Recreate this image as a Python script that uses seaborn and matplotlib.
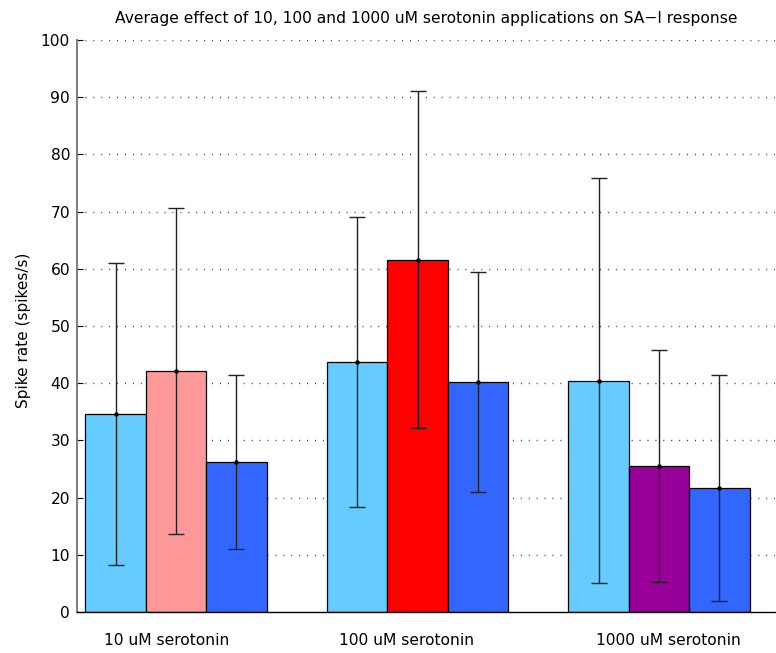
import matplotlib
matplotlib.use("Agg")
import matplotlib.pyplot as plt
import seaborn as sns
import pandas as pd
import numpy as np

groups = ["10 uM serotonin", "100 uM serotonin", "1000 uM serotonin"]
phases = ["before", "during", "after"]
means = [[34.7, 42.1, 26.3],
         [43.7, 61.6, 40.2],
         [40.4, 25.5, 21.7]]
errors = [[26.4, 28.5, 15.2],
          [25.4, 29.5, 19.2],
          [35.4, 20.3, 19.8]]
colors = [["#66CCFF", "#FF9999", "#3366FF"],
          ["#66CCFF", "#FF0000", "#3366FF"],
          ["#66CCFF", "#990099", "#3366FF"]]
label_shift = [-0.04, -0.045, 0.037]
title = "Average effect of 10, 100 and 1000 uM serotonin applications on SA\u2212I response"
ylabel = "Spike rate (spikes/s)"

sns.set_theme(style="white")
plt.rcParams['font.family'] = ['DejaVu Sans']

rows = []
for gi, g in enumerate(groups):
    for pi, p in enumerate(phases):
        rows.append({"group": g, "phase": p, "rate": means[gi][pi]})
df = pd.DataFrame(rows)

fig = plt.figure(figsize=(7.76, 6.53), dpi=100)
ax = fig.add_axes([77/776, 41/653, 698/776, 572/653])

sns.barplot(data=df, x="group", y="rate", hue="phase", order=groups,
            hue_order=phases, width=0.75, errorbar=None, legend=False,
            edgecolor="black", linewidth=0.9, ax=ax, zorder=2)

for pi, p in enumerate(phases):
    cont = ax.containers[pi]
    for gi, patch in enumerate(cont.patches):
        patch.set_facecolor(colors[gi][pi])
        patch.set_alpha(1)
        cx = patch.get_x() + patch.get_width() / 2
        ax.errorbar(cx, means[gi][pi], yerr=errors[gi][pi], fmt='o',
                    color='black', ecolor='#222222', elinewidth=1.0,
                    capsize=6, capthick=1.0, markersize=2.2, zorder=4)

ax.set_ylim(0, 100)
ax.set_xlim(-0.41, 2.48)
ax.set_yticks(np.arange(0, 101, 10))
ax.set_xticks([i + s for i, s in enumerate(label_shift)])
ax.set_xticklabels(groups)
ax.yaxis.grid(True, linestyle=(0, (0.7, 5)), color='#333333', linewidth=1.0)
ax.set_axisbelow(True)
ax.tick_params(axis='y', direction='in', length=4, width=0.8, labelsize=11.2,
               pad=5, left=True, colors='black')
ax.tick_params(axis='x', length=0, labelsize=11.2, pad=15, colors='black')
ax.set_xlabel("")
ax.set_ylabel(ylabel, fontsize=11, color='black')
ax.yaxis.set_label_coords(-0.066, 0.493)
ax.set_title(title, fontsize=11.2, pad=12, color='black')

for s in ["top", "right"]:
    ax.spines[s].set_visible(False)
ax.spines["left"].set_color("#808080")
ax.spines["left"].set_linewidth(1.5)
ax.spines["bottom"].set_color("black")
ax.spines["bottom"].set_linewidth(1.0)

fig.savefig("out.png", dpi=100)
